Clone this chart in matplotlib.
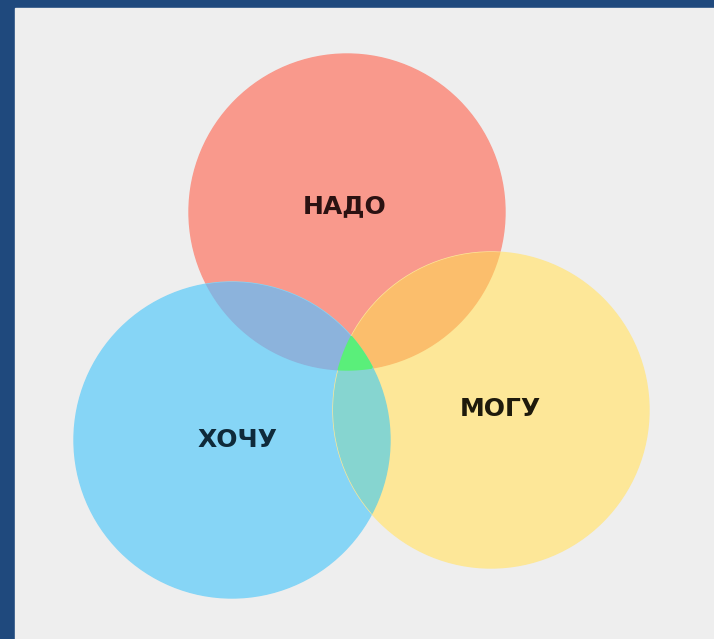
import matplotlib.pyplot as plt
import numpy as np
from matplotlib.patches import Circle, Rectangle

# three sets, pixel coords of the picture (y down)
names = ['НАДО', 'ХОЧУ', 'МОГУ']
cx = [347, 232, 491]
cy = [212, 440, 410]
rad = [158, 158, 158]
colors = ['#f9998c', '#86d5f6', '#fde798']
label_x = [345, 237, 500]
label_y = [206, 440, 409]
label_colors = ['#2b1212', '#0f2a3a', '#1e1a0c']

# overlap colours: (a, b) -> colour
pair_colors = {(0, 1): '#8cb3dc', (0, 2): '#fbbe6c', (1, 2): '#86d5d0'}
center_color = '#5aef7a'

fig = plt.figure(figsize=(7.14, 6.39), dpi=100)
fig.patch.set_facecolor('#1f497d')
ax = fig.add_axes([0, 0, 1, 1])
ax.set_xlim(0, 714)
ax.set_ylim(639, 0)
ax.axis('off')

ax.add_patch(Rectangle((15, 8), 714 - 15, 639 - 8, color='#eeeeee', zorder=0))

circles = []
for i in range(3):
    c = Circle((cx[i], cy[i]), rad[i], color=colors[i], zorder=1)
    ax.add_patch(c)
    circles.append(c)

# pairwise overlaps
for (a, b), col in pair_colors.items():
    p = Circle((cx[a], cy[a]), rad[a], color=col, zorder=2)
    ax.add_patch(p)
    p.set_clip_path(circles[b])

# triple overlap: trace the arcs of each circle that lie inside the other two
def inside(px, py, i):
    return (px - cx[i]) ** 2 + (py - cy[i]) ** 2 <= rad[i] ** 2

t = np.linspace(0, 2 * np.pi, 720)
pts = []
for i in range(3):
    xs = cx[i] + rad[i] * np.cos(t)
    ys = cy[i] + rad[i] * np.sin(t)
    j, k = [n for n in range(3) if n != i]
    m = inside(xs, ys, j) & inside(xs, ys, k)
    pts += list(zip(xs[m], ys[m]))
pts = np.array(pts)
ang = np.arctan2(pts[:, 1] - pts[:, 1].mean(), pts[:, 0] - pts[:, 0].mean())
pts = pts[np.argsort(ang)]
ax.fill(pts[:, 0], pts[:, 1], color=center_color, zorder=3)

for i in range(3):
    ax.text(label_x[i], label_y[i], names[i], ha='center', va='center',
            fontsize=18, fontweight='bold', color=label_colors[i], zorder=5)

fig.savefig('out.png', dpi=100, facecolor=fig.get_facecolor())
